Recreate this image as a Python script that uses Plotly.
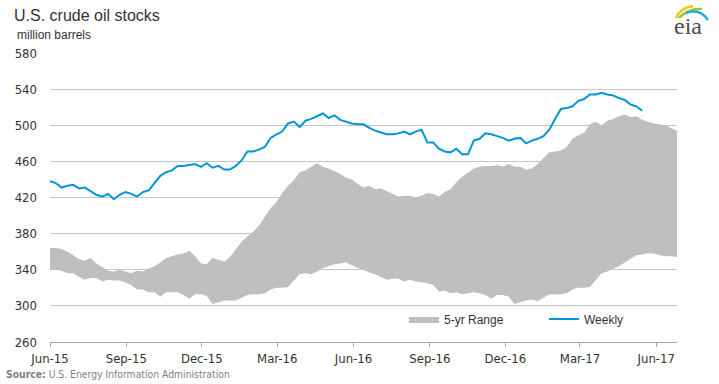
import plotly.graph_objects as go
import pandas as pd

# ---- data (million barrels), weekly ----
weekly_start = "2015-06-05"
weekly_values = [
    438, 436, 431, 433, 434, 430, 431, 427, 423, 421,
    424, 418, 423, 426, 424, 421, 426, 428, 436, 444,
    448, 450, 455, 455, 456, 457, 454, 458, 453, 455,
    451, 451, 455, 461, 471, 471, 473, 476, 486, 490,
    493, 502, 504, 498, 505, 507, 510, 513, 508, 511,
    506, 504, 502, 501, 501, 497, 494, 492, 490, 490,
    491, 493, 490, 493, 495, 481, 481, 474, 471, 470,
    474, 468, 468, 483, 485, 491, 490, 488, 486, 483,
    485, 486, 480, 483, 485, 488, 495, 507, 518, 519,
    521, 527, 529, 534, 534, 536, 534, 533, 530, 528,
    523, 521, 516,
]
range_upper = [
    364, 364, 363, 360, 356, 352, 350, 353, 347, 343,
    339, 338, 340, 338, 336, 339, 338, 341, 344, 348,
    353, 355, 357, 358, 361, 355, 347, 346, 353, 351,
    349, 354, 363, 371, 377, 382, 389, 398, 408, 415,
    425, 433, 439, 448, 450, 454, 458, 454, 452, 449,
    446, 442, 440, 435, 431, 433, 429, 430, 427, 424,
    421, 422, 422, 420, 422, 425, 424, 421, 426, 429,
    437, 443, 448, 452, 454, 455, 455, 456, 454, 457,
    454, 454, 451, 452, 457, 464, 470, 471, 472, 476,
    485, 489, 492, 501, 504, 500, 505, 507, 510, 512,
    509, 510, 506, 504, 502, 501, 500, 497, 494,
]
range_lower = [
    340, 340, 339, 336, 336, 332, 329, 331, 331, 327,
    329, 328, 328, 326, 323, 318, 318, 315, 315, 310,
    315, 315, 315, 312, 308, 313, 313, 311, 302, 304,
    306, 306, 306, 309, 312, 313, 313, 314, 318, 320,
    320, 321, 328, 335, 336, 335, 338, 342, 344, 346,
    347, 348, 345, 342, 340, 337, 335, 332, 329, 330,
    330, 327, 329, 327, 326, 325, 323, 316, 317, 314,
    315, 313, 314, 315, 314, 312, 308, 312, 312, 310,
    302, 304, 306, 307, 305, 309, 313, 313, 313, 314,
    318, 320, 320, 321, 328, 336, 338, 341, 344, 348,
    352, 356, 357, 358, 358, 356, 355, 355, 354,
]
x_range = ["2015-06-05", "2017-06-30"]
y_range = [260, 580]
tick_labels = ["Jun-15", "Sep-15", "Dec-15", "Mar-16", "Jun-16",
               "Sep-16", "Dec-16", "Mar-17", "Jun-17"]

weekly_dates = pd.date_range(weekly_start, periods=len(weekly_values), freq="7D")
range_dates = pd.date_range(weekly_start, periods=len(range_upper), freq="7D")
tick_dates = pd.date_range("2015-06-01", periods=len(tick_labels), freq="3MS") + pd.Timedelta(days=4)

BAND = "#bfbfbf"
BLUE = "#0096d7"
NARROW = "Liberation Sans Narrow, Arial Narrow, DejaVu Sans Condensed, sans-serif"
SANS = "Liberation Sans, Arial, sans-serif"

fig = go.Figure()
fig.add_trace(go.Scatter(x=range_dates, y=range_lower, mode="lines",
                         line=dict(width=0, color=BAND), showlegend=False,
                         hoverinfo="skip"))
fig.add_trace(go.Scatter(x=range_dates, y=range_upper, mode="lines",
                         line=dict(width=0, color=BAND), fill="tonexty",
                         fillcolor=BAND, name="5-yr Range"))
fig.add_trace(go.Scatter(x=weekly_dates, y=weekly_values, mode="lines",
                         line=dict(width=2, color=BLUE), name="Weekly"))

L, R, T, B = 50, 42, 53, 42
W, H = 719, 384
pw, ph = W - L - R, H - T - B


def px(x):
    return (x - L) / pw


def py(y):
    return (H - B - y) / ph


fig.update_layout(
    width=W, height=H,
    margin=dict(l=L, r=R, t=T, b=B),
    paper_bgcolor="white", plot_bgcolor="white",
    font=dict(family=SANS, color="#333333"),
    title=dict(text="U.S. crude oil stocks", xref="container", yref="container",
               x=14 / W, y=1 - 15 / H, xanchor="left", yanchor="middle",
               font=dict(family=SANS, size=16, color="#333333")),
    showlegend=True,
    legend=dict(orientation="h", x=px(404), y=py(319), xanchor="left",
                yanchor="middle", bgcolor="rgba(0,0,0,0)",
                font=dict(family=SANS, size=12, color="#333333"),
                entrywidth=95, entrywidthmode="pixels", traceorder="normal"),
    xaxis=dict(type="date", range=x_range, tickmode="array",
               tickvals=tick_dates, ticktext=tick_labels,
               showgrid=False, showline=True, linecolor="#a6a6a6", linewidth=1,
               ticks="outside", ticklen=4, tickcolor="#a6a6a6",
               tickfont=dict(family=NARROW, size=13, color="#333333")),
    yaxis=dict(range=y_range, dtick=40, tick0=260, showgrid=True,
               gridcolor="#c6c6c6", gridwidth=1, zeroline=False,
               showline=False, ticks="", ticklabelstandoff=12,
               tickfont=dict(family=NARROW, size=13, color="#333333")),
    annotations=[
        dict(text="million barrels", xref="paper", yref="paper",
             x=px(15), y=py(35), xanchor="left", yanchor="middle",
             showarrow=False, font=dict(family=SANS, size=12, color="#333333")),
        dict(text="<b>Source:</b> U.S. Energy Information Administration",
             xref="paper", yref="paper", x=px(4), y=py(374),
             xanchor="left", yanchor="middle", showarrow=False,
             font=dict(family=NARROW, size=10.3, color="#808080")),
        dict(text="eia", xref="paper", yref="paper", x=px(688), y=py(26),
             xanchor="center", yanchor="middle", showarrow=False,
             font=dict(family="Liberation Serif, DejaVu Serif, serif", size=24,
                       color="#4d4d4d")),
    ],
    shapes=[
        dict(type="path", xref="paper", yref="paper",
             path=f"M {px(676)},{py(18)} Q {px(680)},{py(8)} {px(693)},{py(6)}",
             line=dict(color="#f2c811", width=2.5)),
        dict(type="path", xref="paper", yref="paper",
             path=f"M {px(679)},{py(18)} Q {px(688)},{py(8)} {px(702)},{py(9)}",
             line=dict(color="#8cc63f", width=2.5)),
        dict(type="path", xref="paper", yref="paper",
             path=f"M {px(686)},{py(13)} Q {px(700)},{py(8)} {px(708)},{py(20)}",
             line=dict(color="#29abe2", width=2.5)),
    ],
)

fig.write_html(
    "out.html",
    config={"displayModeBar": False},
    post_script="document.body.style.margin='0';document.body.style.overflow='hidden';",
)
